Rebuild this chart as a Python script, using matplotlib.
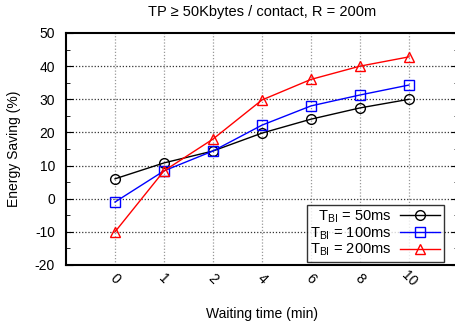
import matplotlib
matplotlib.use("Agg")
import matplotlib.pyplot as plt
from matplotlib.ticker import MultipleLocator
from matplotlib.transforms import ScaledTranslation

categories = ["0", "1", "2", "4", "6", "8", "10"]
tbi_50 = [6.0, 10.8, 14.4, 19.8, 24.0, 27.4, 30.0]
tbi_100 = [-1.0, 8.4, 14.4, 22.2, 28.0, 31.3, 34.3]
tbi_200 = [-10.0, 8.4, 18.0, 29.8, 36.0, 40.0, 42.8]
labels = [r"  T$_{\mathregular{BI}}$ = 50ms", r"T$_{\mathregular{BI}}$ = 100ms", r"T$_{\mathregular{BI}}$ = 200ms"]

plt.rcParams['font.family'] = ['Liberation Sans', 'DejaVu Sans']
plt.rcParams['axes.unicode_minus'] = False

fig = plt.figure(figsize=(4.56, 3.26), dpi=100)
ax = fig.add_axes([66/456, (326-265)/326, 392/456, 232/326])

x = list(range(len(categories)))
ax.plot(x, tbi_50, color='black', marker='o', mfc='none', ms=7, lw=1, label=labels[0])
ax.plot(x, tbi_100, color='blue', marker='s', mfc='none', ms=7, lw=1, label=labels[1])
ax.plot(x, tbi_200, color='red', marker='^', mfc='none', ms=7.5, lw=1, label=labels[2])

ax.set_xlim(-1, 7)
ax.set_ylim(-20, 50)
ax.set_xticks(x)
ax.set_xticklabels(categories, rotation=-45, ha='center', va='center', fontsize=10)
shift = ScaledTranslation(3/100, 0, fig.dpi_scale_trans)
for t in ax.get_xticklabels():
    t.set_transform(t.get_transform() + shift)
ax.yaxis.set_major_locator(MultipleLocator(10))
ax.yaxis.set_minor_locator(MultipleLocator(5))
ax.tick_params(axis='y', which='both', direction='in', right=True, labelsize=10, pad=8)
ax.tick_params(axis='y', which='major', length=5)
ax.tick_params(axis='y', which='minor', length=3)
ax.tick_params(axis='x', length=0, pad=10)

for v in x:
    ax.axvline(v, color='#999999', ls=(0, (1, 1.5)), lw=0.9, zorder=0)
for v in range(-10, 50, 10):
    ax.axhline(v, color='#333333', ls=(0, (1, 1.5)), lw=0.9, zorder=0)

for s in ['top', 'left', 'bottom']:
    ax.spines[s].set_linewidth(1.5)
ax.spines['right'].set_visible(False)

ax.set_title("TP \u2265 50Kbytes / contact, R = 200m", fontsize=10.5, pad=12)
ax.set_xlabel("Waiting time (min)", fontsize=10, va='center')
ax.xaxis.set_label_coords(0.5, -(314-265)/232)
ax.set_ylabel("Energy Saving (%)", fontsize=10, va='center')
ax.yaxis.set_label_coords(-(66-14)/392, 0.5)

leg = ax.legend(loc='lower right', markerfirst=False, prop={'size': 10.5}, frameon=True, fancybox=False,
                edgecolor='black', handlelength=2.75, borderpad=0.25, labelspacing=0.0,
                handletextpad=0.6, borderaxespad=0)
leg.set_bbox_to_anchor((444/456, (326-262)/326), transform=fig.transFigure)
leg.get_frame().set_linewidth(1.0)

fig.savefig("out.png", dpi=100)
